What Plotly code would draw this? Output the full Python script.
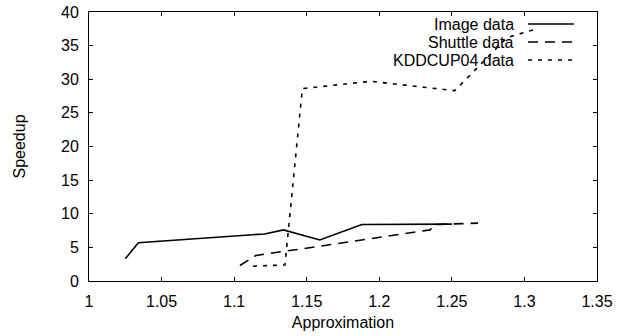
import plotly.graph_objects as go

# ---- data ----
image_x = [1.025, 1.034, 1.121, 1.134, 1.159, 1.188, 1.250]
image_y = [3.3, 5.7, 7.0, 7.6, 6.1, 8.4, 8.45]

shuttle_x = [1.104, 1.115, 1.134, 1.157, 1.235, 1.238, 1.268]
shuttle_y = [2.3, 3.8, 4.4, 5.1, 7.6, 8.4, 8.6]

kdd_x = [1.113, 1.135, 1.147, 1.194, 1.252, 1.288, 1.307]
kdd_y = [2.2, 2.4, 28.6, 29.7, 28.3, 36.2, 37.4]

series_names = ["Image data", "Shuttle data", "KDDCUP04 data"]
x_tick_vals = [1, 1.05, 1.1, 1.15, 1.2, 1.25, 1.3, 1.35]
x_tick_text = ["1", "1.05", "1.1", "1.15", "1.2", "1.25", "1.3", "1.35"]
y_tick_vals = [0, 5, 10, 15, 20, 25, 30, 35, 40]

FONT = "Liberation Sans, Arial, sans-serif"
FS = 16
dashes = ["solid", "10px,7px", "4px,6px"]

fig = go.Figure()
for name, xs, ys, d in zip(series_names, [image_x, shuttle_x, kdd_x],
                           [image_y, shuttle_y, kdd_y], dashes):
    fig.add_trace(go.Scatter(x=xs, y=ys, mode="lines", name=name,
                             line=dict(color="black", width=1.6, dash=d),
                             showlegend=False))

L, R, T, B = 89, 33, 12, 55
W, H = 630, 336
pw = W - L - R
ph = H - T - B

def px_to_paper_x(px):
    return (px - L) / pw

def px_to_paper_y(py):
    return 1 - (py - T) / ph

# gnuplot-style key: text right-aligned, sample line to the right
shapes = []
annotations = []
key_rows = [24, 42, 60]
for name, d, ry in zip(series_names, dashes, key_rows):
    yy = px_to_paper_y(ry)
    annotations.append(dict(x=px_to_paper_x(516), y=yy, xref="paper", yref="paper",
                            text=name, showarrow=False, xanchor="right", yanchor="middle",
                            font=dict(family=FONT, size=FS, color="black")))
    shapes.append(dict(type="line", xref="paper", yref="paper",
                       x0=px_to_paper_x(528), x1=px_to_paper_x(574), y0=yy, y1=yy,
                       line=dict(color="black", width=1.6, dash=d)))

fig.update_layout(
    width=W, height=H, autosize=False,
    margin=dict(l=L, r=R, t=T, b=B, pad=0, autoexpand=False),
    paper_bgcolor="white", plot_bgcolor="white",
    font=dict(family=FONT, size=FS, color="black"),
    shapes=shapes, annotations=annotations,
    xaxis=dict(range=[1, 1.35], tickvals=x_tick_vals, ticktext=x_tick_text,
               ticks="inside", ticklen=4, tickcolor="black", mirror="ticks",
               showline=True, linecolor="black", linewidth=1, showgrid=False,
               zeroline=False, ticklabelstandoff=6, automargin=False,
               title=dict(text="Approximation", standoff=7,
                          font=dict(family=FONT, size=FS))),
    yaxis=dict(range=[0, 40], tickvals=y_tick_vals,
               ticks="inside", ticklen=4, tickcolor="black", mirror="ticks",
               showline=True, linecolor="black", linewidth=1, showgrid=False,
               zeroline=False, ticklabelstandoff=6, automargin=False,
               title=dict(text="Speedup", standoff=31,
                          font=dict(family=FONT, size=FS))),
)

fig.write_html("out.html",
               config={"displayModeBar": False},
               post_script="document.body.style.margin='0';document.body.style.overflow='hidden';")
